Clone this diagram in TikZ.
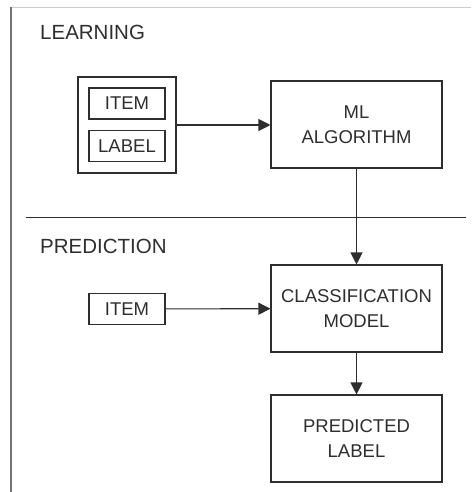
\documentclass[tikz,border=0pt]{standalone}
\usepackage{fontspec}
\setmainfont{Liberation Sans}
\usepackage{xcolor}
\definecolor{ink}{gray}{.18}
\definecolor{rule}{gray}{.45}
\usetikzlibrary{positioning,arrows.meta}

\tikzset{
  box/.style={draw=ink,line width=1.1pt,text=ink,inner sep=0pt,align=center,
    font=\fontsize{18.5}{25.5}\selectfont},
  smallbox/.style={box,minimum width=76pt,minimum height=31pt},
  bigbox/.style={box,minimum width=171pt,minimum height=87pt},
  heading/.style={anchor=base west,inner sep=0pt,text=ink,font=\fontsize{20.5}{24}\selectfont},
  arr/.style={-{Triangle[length=12pt,width=12pt]},line width=1.1pt,draw=ink},
}

\begin{document}
\begin{tikzpicture}[x=1pt,y=-1pt]
		\useasboundingbox (0,0) rectangle (471,492);
		\draw[gray!40, line width=.8pt] (10,7) -- (471,7);
		\draw[rule, line width=1.8pt] (11,7) -- (11,492);
		
		%%% LEARNING
		\node[heading] (learn) at (40,40) {LEARNING};
		\node[box,minimum width=98pt,minimum height=96pt] (inputs) at (127,125) {};
		\node[smallbox] (item) at (127,103.5) {ITEM};
		\node[smallbox] (label) at (127,146) {LABEL};
		\node[bigbox] (algo) at (356.5,124.5) {ML\\ALGORITHM};
		\draw[arr] (inputs.east) -- (inputs.east -| algo.west);
		
		%%% SEPARATOR
		\coordinate (sepL) at (26,217);
		\coordinate (sepR) at (466,217);
		\draw[ink, line width=1pt] (sepL) -- (sepR);
		
		%%% PREDICTION
		\node[heading] (predict) at (40,253) {PREDICTION};
		\node[smallbox] (item2) at (127,309) {ITEM};
		\node[bigbox] (model) at (356.5,308.5) {CLASSIFICATION\\MODEL};
		\node[bigbox] (pred) at (356.5,438.5) {PREDICTED\\LABEL};
		\draw[arr] (algo) -- (model);
		\draw[arr] (item2) -- (model);
		\draw[arr] (model) -- (pred);
		
	\end{tikzpicture}
\end{document}
